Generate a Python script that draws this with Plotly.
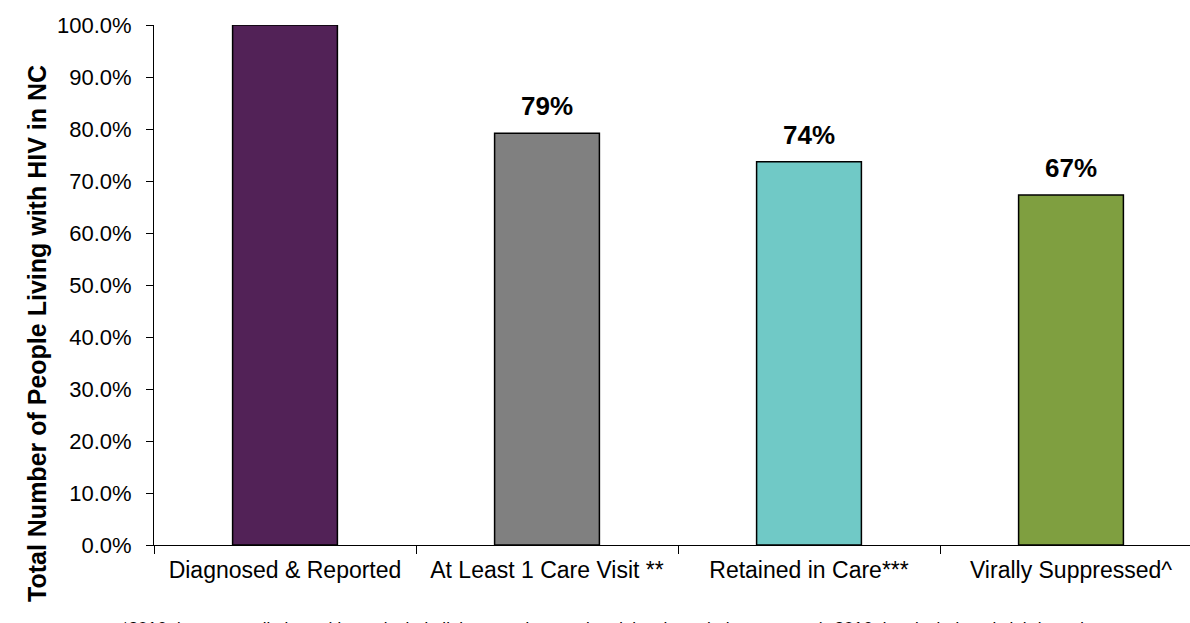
import plotly.graph_objects as go

categories = ["Diagnosed & Reported", "At Least 1 Care Visit **", "Retained in Care***", "Virally Suppressed^"]
values = [1.000, 0.792, 0.737, 0.673]
labels = ["", "79%", "74%", "67%"]
colors = ["#522257", "#808080", "#70C9C6", "#7F9F40"]
y_title = "Total Number of People Living with HIV in NC"
footnote = ("*2016 data are preliminary (do not include linkage and correction delay through the next year). "
            "2016 data include only lab-based reports")

W, H = 1190, 623
L, T, B = 154, 25, 78
plot_w = W - L
plot_h = H - T - B
FONT = "Liberation Sans, Arial"

fig = go.Figure(go.Bar(
    x=categories,
    y=values,
    width=0.4,
    marker=dict(color=colors, line=dict(color="black", width=1.5)),
    cliponaxis=False,
))

for c, v, lab in zip(categories, values, labels):
    if lab:
        fig.add_annotation(
            x=c, y=v, text=lab, xref="x", yref="y",
            yanchor="bottom", xanchor="center", yshift=10,
            showarrow=False,
            font=dict(family=FONT, size=26, color="black", weight="bold"),
        )

fig.update_layout(
    width=W, height=H,
    margin=dict(l=L, r=0, t=T, b=B),
    plot_bgcolor="white", paper_bgcolor="white",
    showlegend=False,
    font=dict(family=FONT, color="black"),
)

fig.update_xaxes(
    type="category",
    range=[-0.5, -0.5 + plot_w / 262.0],
    tickson="boundaries",
    ticks="outside", ticklen=8, tickwidth=1, tickcolor="black",
    showline=True, linecolor="black", linewidth=1,
    showgrid=False, zeroline=False,
    tickfont=dict(size=23, color="black"),
    ticklabelstandoff=4,
)

fig.update_yaxes(
    range=[0, 1.0],
    tickmode="array",
    tickvals=[i / 10 for i in range(11)],
    tickformat=".1%",
    ticks="outside", ticklen=7, tickwidth=1, tickcolor="black",
    showline=True, linecolor="black", linewidth=1,
    showgrid=False, zeroline=False,
    tickfont=dict(size=22, color="black"),
    ticklabelstandoff=10,
)

fig.add_annotation(
    text=y_title, textangle=-90,
    xref="paper", yref="paper",
    x=(37 - L) / plot_w, y=(H - B - 334) / plot_h,
    xanchor="center", yanchor="middle",
    showarrow=False,
    font=dict(size=25, color="black", family=FONT, weight="bold"),
)

fig.add_annotation(
    text=footnote,
    xref="paper", yref="paper",
    x=(120 - L) / plot_w, y=(H - B - 617) / plot_h,
    xanchor="left", yanchor="top",
    showarrow=False,
    font=dict(size=17, color="black"),
)

fig.write_html("out.html")
